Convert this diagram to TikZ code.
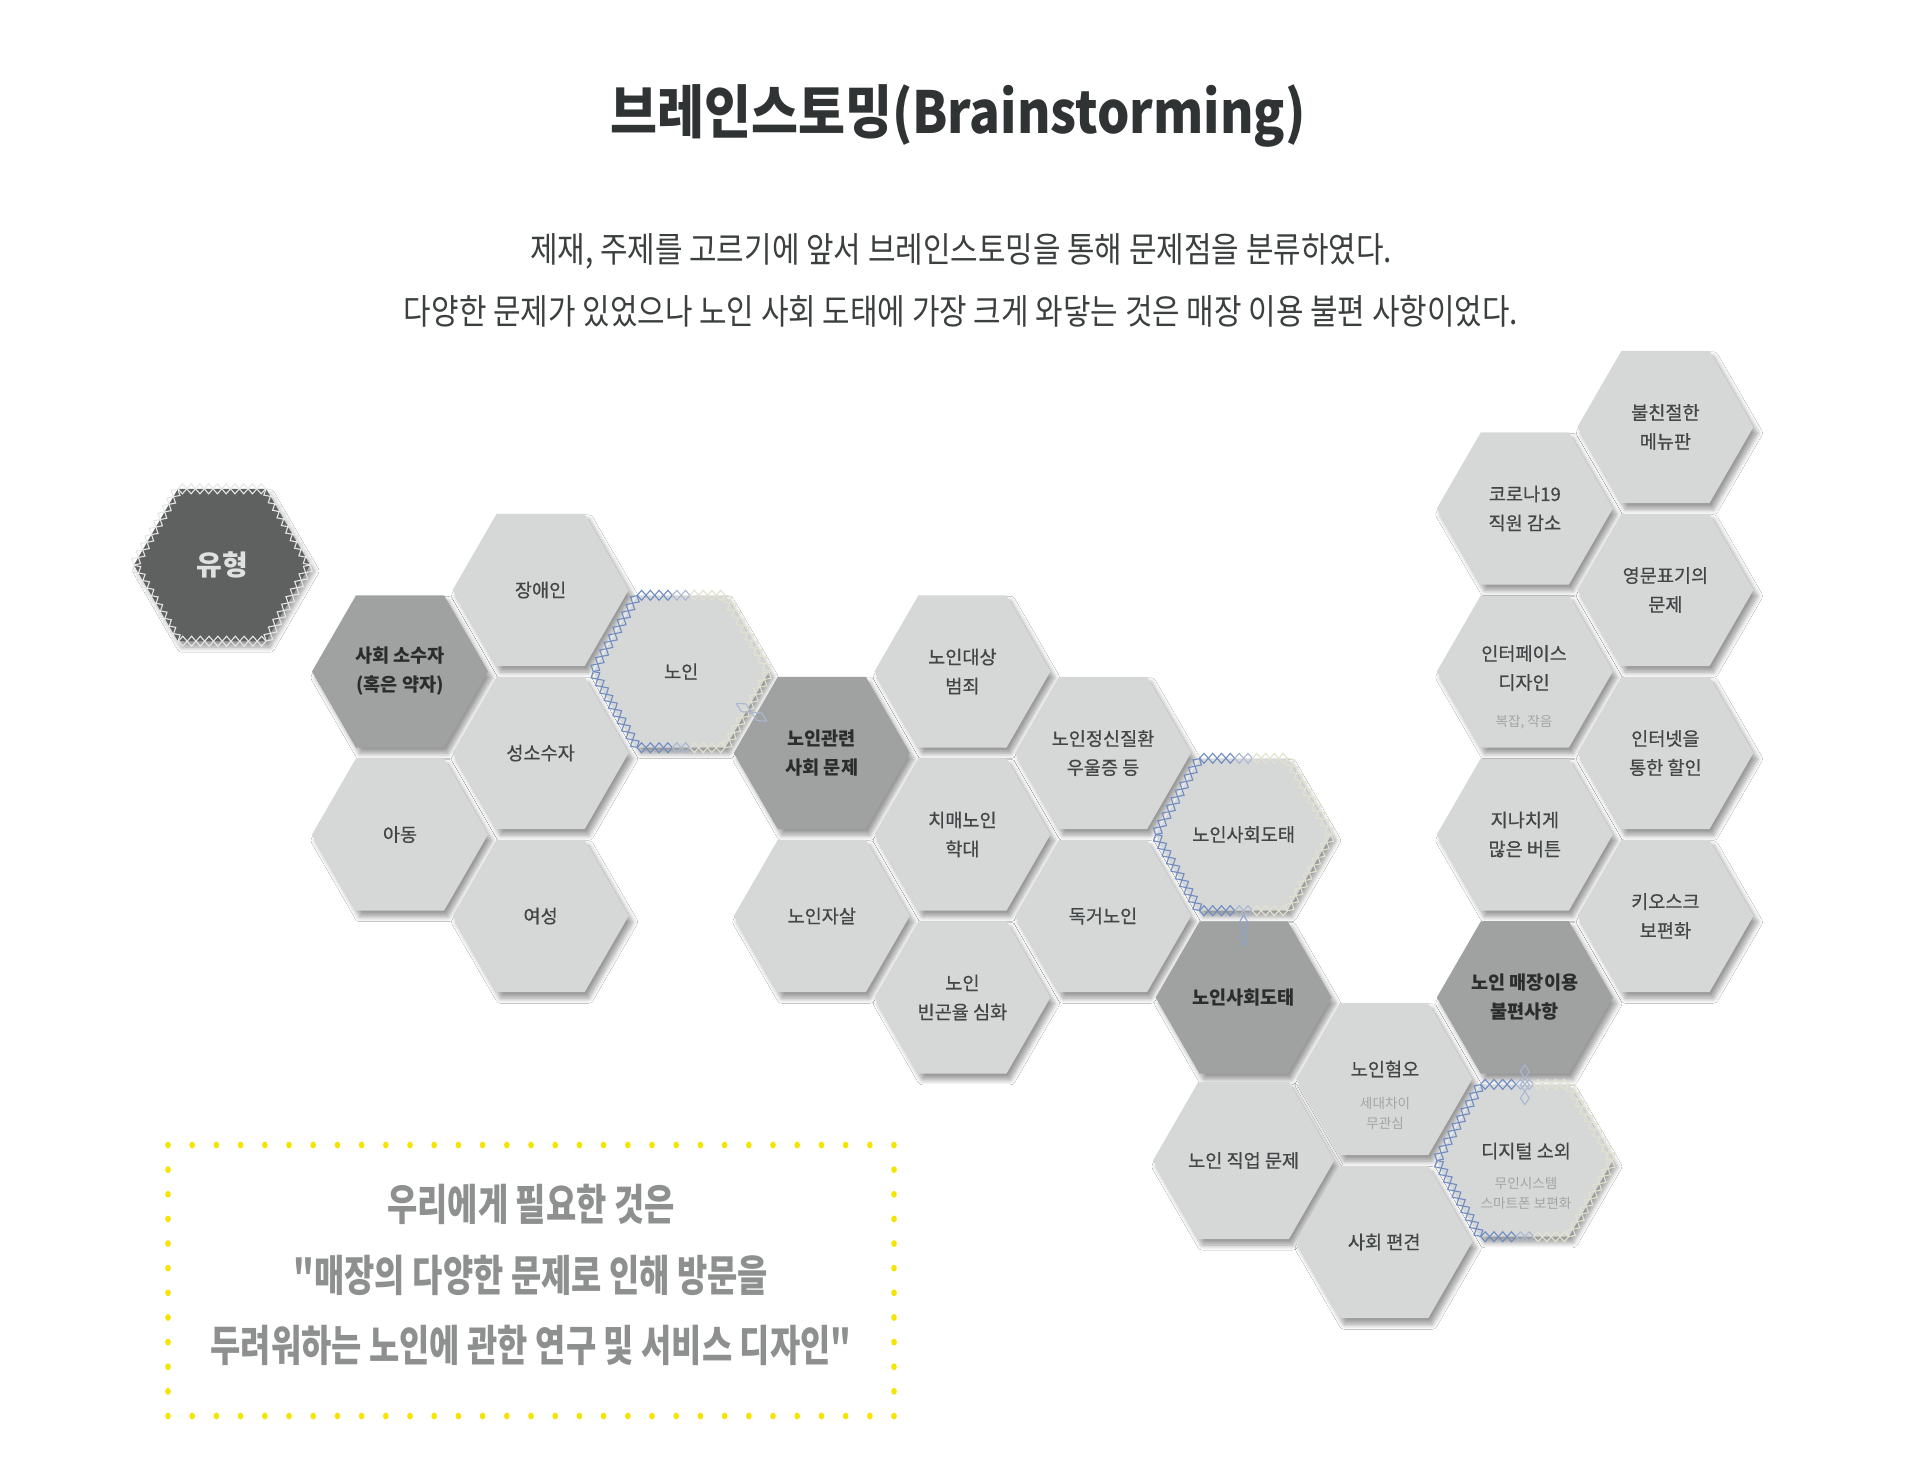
\documentclass[tikz,border=0pt]{standalone}
\usepackage{fontspec}
\usetikzlibrary{shapes.geometric,decorations.pathmorphing,calc,shadows.blur}
\newfontfamily\kr{Noto Sans CJK KR}
\newfontfamily\krm[FakeBold=0.6]{Noto Sans CJK KR}
\newfontfamily\krtitle[FakeStretch=0.88]{Noto Sans CJK KR}
\newfontfamily\krsub[FakeStretch=0.855]{Noto Sans CJK KR}
\newfontfamily\krbox[FakeStretch=0.765]{Noto Sans CJK KR}
\definecolor{hexlight}{HTML}{D6D8D8}
\definecolor{hexdark}{HTML}{A0A2A2}
\definecolor{hexdeep}{HTML}{5F6161}
\definecolor{txtdark}{HTML}{434646}
\definecolor{txtbold}{HTML}{2B2D2D}
\definecolor{txtsub}{HTML}{A3A5A5}
\definecolor{titlecol}{HTML}{2F3333}
\definecolor{subcol}{HTML}{3C3F3F}
\definecolor{chainblue}{HTML}{6F8CC2}
\definecolor{chainmid}{HTML}{A9B7D2}
\definecolor{chainpale}{HTML}{E2E2CF}
\definecolor{chainwhite}{HTML}{E6E6E6}
\definecolor{dotyellow}{HTML}{F4E400}
\definecolor{boxtext}{HTML}{8E9090}
\tikzset{
  hexbase/.style={regular polygon, regular polygon sides=6, minimum size=88pt,
    inner sep=0pt, outer sep=0pt, align=center,
    blur shadow={shadow xshift=2pt, shadow yshift=-3pt, shadow blur radius=2.5pt,
      shadow blur steps=8, shadow opacity=40}},
  hexL/.style={hexbase, fill=hexlight, text=txtdark, font=\krm\fontsize{9.3}{14.5}\selectfont},
  hexD/.style={hexbase, fill=hexdark, text=txtbold, font=\kr\bfseries\fontsize{9.3}{14.5}\selectfont},
  hexY/.style={hexbase, fill=hexdeep, text=white!88!black, font=\kr\bfseries\fontsize{14}{16}\selectfont},
  maintxt/.style={text=txtdark, align=center, inner sep=0pt, font=\krm\fontsize{9.3}{14.5}\selectfont},
  subtxt/.style={text=txtsub, align=center, inner sep=0pt, font=\kr\fontsize{6.8}{10}\selectfont},
  zz/.style={decorate, decoration={zigzag, segment length=8.76pt, amplitude=2.5pt}},
  zzm/.style={decorate, decoration={zigzag, segment length=8.76pt, amplitude=2.5pt, mirror}},
  cz/.style={decorate, decoration={zigzag, segment length=#1, amplitude=2.25pt}},
  czm/.style={decorate, decoration={zigzag, segment length=#1, amplitude=2.25pt, mirror}},
  chainline/.style={line width=0.55pt},
}
\newcommand\chainedge[3]{%
  \draw[#3, chainline, zz] #1 -- #2;
  \draw[#3, chainline, zzm] #1 -- #2;
}
\newcommand\hexcorners[1]{%
  \coordinate (#1-v0) at ($(#1.center)+(88,0)$);
  \coordinate (#1-v1) at ($(#1.center)+(44,76.2)$);
  \coordinate (#1-v2) at ($(#1.center)+(-44,76.2)$);
  \coordinate (#1-v3) at ($(#1.center)+(-88,0)$);
  \coordinate (#1-v4) at ($(#1.center)+(-44,-76.2)$);
  \coordinate (#1-v5) at ($(#1.center)+(44,-76.2)$);
  \coordinate (#1-t1) at ($(#1-v4)+(35.2,0)$);
  \coordinate (#1-t2) at ($(#1-v4)+(52.8,0)$);
  \coordinate (#1-b1) at ($(#1-v2)+(35.2,0)$);
  \coordinate (#1-b2) at ($(#1-v2)+(52.8,0)$);
}
\newcommand\hexframeB[1]{%
  \hexcorners{#1}
  \chainedge{(#1-v3)}{(#1-v4)}{chainblue}
  \chainedge{(#1-v3)}{(#1-v2)}{chainblue}
  \chainedge{(#1-v4)}{(#1-t1)}{chainblue}
  \chainedge{(#1-t1)}{(#1-t2)}{chainmid}
  \chainedge{(#1-t2)}{(#1-v5)}{chainpale}
  \chainedge{(#1-v2)}{(#1-b1)}{chainblue}
  \chainedge{(#1-b1)}{(#1-b2)}{chainmid}
  \chainedge{(#1-b2)}{(#1-v1)}{chainpale}
  \chainedge{(#1-v5)}{(#1-v0)}{chainpale}
  \chainedge{(#1-v1)}{(#1-v0)}{chainpale}
}
\newcommand\hexframeW[1]{%
  \hexcorners{#1}
  \chainedge{(#1-v3)}{(#1-v4)}{chainwhite}
  \chainedge{(#1-v4)}{(#1-v5)}{chainwhite}
  \chainedge{(#1-v5)}{(#1-v0)}{chainwhite}
  \chainedge{(#1-v0)}{(#1-v1)}{chainwhite}
  \chainedge{(#1-v1)}{(#1-v2)}{chainwhite}
  \chainedge{(#1-v2)}{(#1-v3)}{chainwhite}
}
\begin{document}
\begin{tikzpicture}[x=0.5pt,y=-0.5pt]
\fill[white] (0,0) rectangle (1920,1480);
\useasboundingbox (0,0) rectangle (1920,1480);

% titles
\node[font=\krtitle\bfseries\fontsize{29}{32}\selectfont, text=titlecol, inner sep=0pt] (title) at (958,116) {브레인스토밍(Brainstorming)};
\node[font=\krsub\fontsize{17.5}{30}\selectfont, text=subcol, inner sep=0pt] (sub1) at (961,251) {제재, 주제를 고르기에 앞서 브레인스토밍을 통해 문제점을 분류하였다.};
\node[font=\krsub\fontsize{17.5}{30}\selectfont, text=subcol, inner sep=0pt] (sub2) at (961,311) {다양한 문제가 있었으나 노인 사회 도태에 가장 크게 와닿는 것은 매장 이용 불편 사항이었다.};

% hexagons
\node[hexY] (yuhyeong) at (222,565) {유형};
\node[hexD] (sosu) at (400,671.5) {사회 소수자\\(혹은 약자)};
\node[hexL] (jangae) at (540.6,590) {장애인};
\node[hexL] (noin) at (681.2,671.5) {노인};
\node[hexL] (seong) at (540.6,753) {성소수자};
\node[hexL] (adong) at (400,834.5) {아동};
\node[hexL] (yeoseong) at (540.6,916) {여성};
\node[hexD] (gwanryeon) at (821.8,753) {노인관련\\사회 문제};
\node[hexL] (jasal) at (821.8,916) {노인자살};
\node[hexL] (beomjoe) at (962.4,671.5) {노인대상\\범죄};
\node[hexL] (hakdae) at (962.4,834.5) {치매노인\\학대};
\node[hexL] (bingon) at (962.4,997.5) {노인\\빈곤율 심화};
\node[hexL] (jeongsin) at (1103,753) {노인정신질환\\우울증 등};
\node[hexL] (dokgeo) at (1103,916) {독거노인};
\node[hexL] (dotaeA) at (1243.6,834.5) {노인사회도태};
\node[hexD] (dotaeB) at (1243.6,997.5) {노인사회도태};
\node[hexL] (jigeop) at (1243.6,1160.5) {노인 직업 문제};
\node[hexL] (hyeomo) at (1384.2,1079) {};
\node[hexL] (pyeongyeon) at (1384.2,1242) {사회 편견};
\node[hexD] (maejang) at (1524.8,997.5) {노인 매장이용\\불편사항};
\node[hexL] (digital) at (1524.8,1160.5) {};
\node[hexL] (beoteun) at (1524.8,834.5) {지나치게\\많은 버튼};
\node[hexL] (interface) at (1524.8,671.5) {};
\node[hexL] (corona) at (1524.8,508.5) {코로나19\\직원 감소};
\node[hexL] (menu) at (1665.4,427) {불친절한\\메뉴판};
\node[hexL] (yeongmun) at (1665.4,590) {영문표기의\\문제};
\node[hexL] (internet) at (1665.4,753) {인터넷을\\통한 할인};
\node[hexL] (kiosk) at (1665.4,916) {키오스크\\보편화};

% texts with sub lines
\node[maintxt] (hyeomo-m) at (1385,1069) {노인혐오};
\node[subtxt] (hyeomo-s) at (1385,1113) {세대차이\\무관심};
\node[maintxt] (digital-m) at (1526,1151) {디지털 소외};
\node[subtxt] (digital-s) at (1526,1193) {무인시스템\\스마트폰 보편화};
\node[maintxt] (interface-m) at (1524,668) {인터페이스\\디자인};
\node[subtxt] (interface-s) at (1524,722) {복잡, 작음};

% chain frames
\hexframeW{yuhyeong}
\hexframeB{noin}
\hexframeB{dotaeA}
\hexframeB{digital}

% small chain connectors
\path (noin.center) -- (gwanryeon.center) coordinate[pos=0.39] (cA1) coordinate[pos=0.61] (cA2);
\draw[chainmid, chainline, cz=17.8pt] (cA1) -- (cA2);
\draw[chainmid, chainline, czm=17.8pt] (cA1) -- (cA2);
\path (dotaeA.center) -- (dotaeB.center) coordinate[pos=0.494] (cB1) coordinate[pos=0.684] (cB2);
\draw[chainblue!80!white, chainline, cz=15.4pt] (cB1) -- (cB2);
\draw[chainblue!80!white, chainline, czm=15.4pt] (cB1) -- (cB2);
\path (maejang.center) -- (digital.center) coordinate[pos=0.414] (cC1) coordinate[pos=0.66] (cC2);
\draw[chainmid, chainline, cz=13.25pt] (cC1) -- (cC2);
\draw[chainmid, chainline, czm=13.25pt] (cC1) -- (cC2);

% dotted box
\foreach \i in {0,...,30} {
  \fill[dotyellow] ({168+\i*24.2},1145) ellipse[x radius=2.8, y radius=3.4];
  \fill[dotyellow] ({168+\i*24.2},1416) ellipse[x radius=2.8, y radius=3.4];
}
\foreach \j in {1,...,10} {
  \fill[dotyellow] (168,{1145+\j*24.636}) ellipse[x radius=2.8, y radius=3.4];
  \fill[dotyellow] (894,{1145+\j*24.636}) ellipse[x radius=2.8, y radius=3.4];
}
\node[font=\krbox\bfseries\fontsize{21.5}{35.25}\selectfont, text=boxtext, align=center, inner sep=0pt] (need) at (531,1275) {우리에게 필요한 것은\\"매장의 다양한 문제로 인해 방문을\\두려워하는 노인에 관한 연구 및 서비스 디자인"};
\end{tikzpicture}
\end{document}
